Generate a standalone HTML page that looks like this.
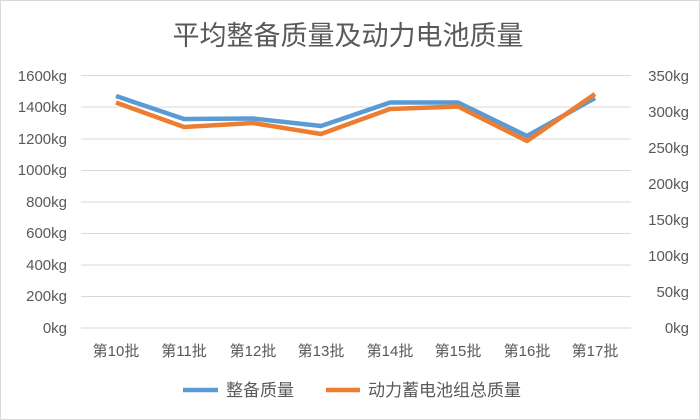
<!DOCTYPE html>
<html><head><meta charset="utf-8"><style>
body{margin:0;background:#fff}
svg{display:block;font-family:"Liberation Sans","Noto Sans CJK SC",sans-serif}
</style></head><body>
<svg width="700" height="420" viewBox="0 0 700 420">
<rect x="0.5" y="0.5" width="699" height="419" fill="#fff" stroke="#d9d9d9"/>
<text x="348" y="45" text-anchor="middle" font-size="27" fill="#595959">平均整备质量及动力电池质量</text>
<g stroke="#d9d9d9" stroke-width="1">
<line x1="81" x2="631" y1="75.5" y2="75.5"/><line x1="81" x2="631" y1="107" y2="107"/>
<line x1="81" x2="631" y1="139" y2="139"/><line x1="81" x2="631" y1="170.5" y2="170.5"/>
<line x1="81" x2="631" y1="202" y2="202"/><line x1="81" x2="631" y1="233.5" y2="233.5"/>
<line x1="81" x2="631" y1="265" y2="265"/><line x1="81" x2="631" y1="296.5" y2="296.5"/>
<line x1="81" x2="631" y1="328" y2="328"/>
</g>
<g font-size="15" fill="#595959" text-anchor="end">
<text x="67" y="81">1600kg</text><text x="67" y="112">1400kg</text><text x="67" y="144">1200kg</text>
<text x="67" y="175">1000kg</text><text x="67" y="207">800kg</text><text x="67" y="238">600kg</text>
<text x="67" y="270">400kg</text><text x="67" y="301">200kg</text><text x="67" y="333">0kg</text>
</g>
<g font-size="15" fill="#595959" text-anchor="end">
<text x="689" y="81">350kg</text><text x="689" y="117">300kg</text><text x="689" y="153">250kg</text>
<text x="689" y="189">200kg</text><text x="689" y="225">150kg</text><text x="689" y="261">100kg</text>
<text x="689" y="297">50kg</text><text x="689" y="333">0kg</text>
</g>
<g font-size="15" fill="#595959" text-anchor="middle">
<text x="116" y="356">第10批</text><text x="184" y="356">第11批</text><text x="253" y="356">第12批</text>
<text x="321" y="356">第13批</text><text x="390" y="356">第14批</text><text x="458" y="356">第15批</text>
<text x="527" y="356">第16批</text><text x="595" y="356">第17批</text>
</g>
<polyline fill="none" stroke="#5b9bd5" stroke-width="4.5" stroke-linejoin="round" points="116,96 184,119 253,118.5 321,126 390,102.5 458,102.5 527,136 595,98"/>
<polyline fill="none" stroke="#ed7d31" stroke-width="4.5" stroke-linejoin="round" points="116,102.5 184,127 253,123 321,134 390,109 458,106.5 527,141 595,94"/>
<line x1="183" x2="218" y1="390" y2="390" stroke="#5b9bd5" stroke-width="4.5"/>
<text x="226" y="396" font-size="17" fill="#595959">整备质量</text>
<line x1="326" x2="360" y1="390" y2="390" stroke="#ed7d31" stroke-width="4.5"/>
<text x="368" y="396" font-size="17" fill="#595959">动力蓄电池组总质量</text>
</svg>
</body></html>
